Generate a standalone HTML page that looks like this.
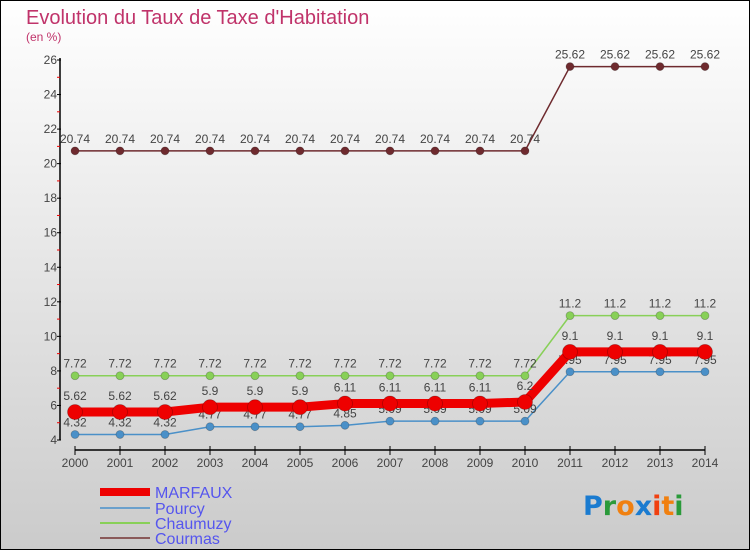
<!DOCTYPE html>
<html><head><meta charset="utf-8"><style>
html,body{margin:0;padding:0}
body{width:750px;height:550px;overflow:hidden;font-family:"Liberation Sans",sans-serif}
svg{display:block}
</style></head><body>
<svg id="chart" width="750" height="550" xmlns="http://www.w3.org/2000/svg" font-family="Liberation Sans, sans-serif">
<defs><linearGradient id="bg" x1="0" y1="0" x2="0" y2="1"><stop offset="0" stop-color="#ffffff"/><stop offset="1" stop-color="#cbcbcb"/></linearGradient></defs>
<rect x="0.5" y="0.5" width="749" height="549" fill="url(#bg)" stroke="#000"/>
<text x="26" y="24" font-size="20" fill="#c0336a">Evolution du Taux de Taxe d'Habitation</text>
<text x="26" y="41" font-size="12" fill="#c0336a">(en %)</text>
<g id="axes"></g>
<g id="series"></g>
<g id="legend"></g>
<text x="583" y="515" font-size="27" font-family="DejaVu Sans" font-weight="bold"><tspan fill="#1a7bd0">P</tspan><tspan fill="#2a9a3a">r</tspan><tspan fill="#f08010">o</tspan><tspan fill="#1a7bd0">x</tspan><tspan fill="#f04010">i</tspan><tspan fill="#f08010">t</tspan><tspan fill="#2a9a3a">i</tspan></text>
</svg>
<script>
const years=[2000,2001,2002,2003,2004,2005,2006,2007,2008,2009,2010,2011,2012,2013,2014];
const marfaux=[5.62,5.62,5.62,5.9,5.9,5.9,6.11,6.11,6.11,6.11,6.2,9.1,9.1,9.1,9.1];
const pourcy=[4.32,4.32,4.32,4.77,4.77,4.77,4.85,5.09,5.09,5.09,5.09,7.95,7.95,7.95,7.95];
const chaumuzy=[7.72,7.72,7.72,7.72,7.72,7.72,7.72,7.72,7.72,7.72,7.72,11.2,11.2,11.2,11.2];
const courmas=[20.74,20.74,20.74,20.74,20.74,20.74,20.74,20.74,20.74,20.74,20.74,25.62,25.62,25.62,25.62];
const yTicks=[4,6,8,10,12,14,16,18,20,22,24,26];
const NS="http://www.w3.org/2000/svg";
const x=i=>75+i*(630/(years.length-1));
const y=v=>440-(v-4)*(380/22);
function mk(tag,attrs,parent){const e=document.createElementNS(NS,tag);for(const k in attrs)e.setAttribute(k,attrs[k]);parent.appendChild(e);return e;}
const axes=document.getElementById('axes');
let e=mk('line',{x1:60,y1:y(26)-2,x2:60,y2:440,stroke:'#000','stroke-width':1.5},axes);


e=mk('line',{x1:75,y1:450,x2:705,y2:450,stroke:'#000','stroke-width':1.5},axes);


yTicks.forEach(t=>{
  mk('line',{x1:57,y1:y(t),x2:61,y2:y(t),stroke:'#000'},axes);
  e=mk('text',{x:57,y:y(t)+4,'text-anchor':'end','font-size':12,fill:'#444'},axes);
  e.textContent=t;
  
  
  if(t<26) mk('line',{x1:57,y1:y(t+1),x2:60,y2:y(t+1),stroke:'#e00'},axes);
});
years.forEach((yr,i)=>{
  mk('line',{x1:x(i),y1:446,x2:x(i),y2:455,stroke:'#000'},axes);
  e=mk('text',{x:x(i),y:467,'text-anchor':'middle','font-size':12,fill:'#444'},axes);
  e.textContent=yr;
  
  
});
const ser=document.getElementById('series');
function draw(name,vals,color,w,r,dy){
  const g=mk('g',{},ser);
  
  
  const p=mk('polyline',{points:vals.map((v,i)=>x(i)+','+y(v)).join(' '),fill:'none',stroke:color,'stroke-width':w,'stroke-linejoin':'round'},g);
  
  
  vals.forEach((v,i)=>{
    const c=mk('circle',{cx:x(i),cy:y(v),r:r,fill:color,stroke:'rgba(0,0,0,0.25)','stroke-width':0.8},g);
    
    
    const t=mk('text',{x:x(i),y:y(v)-dy,'text-anchor':'middle','font-size':12,fill:'#444'},g);
    t.textContent=String(v);
    
    
  });
}
draw('courmas',courmas,'#6e2a2e',1.5,4,8);
draw('chaumuzy',chaumuzy,'#88d058',1.5,4,8);
draw('pourcy',pourcy,'#4a90c8',1.5,4,8);
draw('marfaux',marfaux,'#ee0000',9,7.5,12);
const leg=document.getElementById('legend');
[['MARFAUX','#ee0000',8,492],['Pourcy','#6aa0cc',2,508],['Chaumuzy','#88d058',2,523],['Courmas','#8a5a5a',2,538]].forEach(([n,c,w,yy])=>{
  const g=mk('g',{},leg);
  
  
  mk('line',{x1:100,y1:yy,x2:150,y2:yy,stroke:c,'stroke-width':w},g);
  const t=mk('text',{x:155,y:yy+6,'font-size':16,fill:'#5555ee'},g);
  t.textContent=n;
});
</script>
</body></html>
